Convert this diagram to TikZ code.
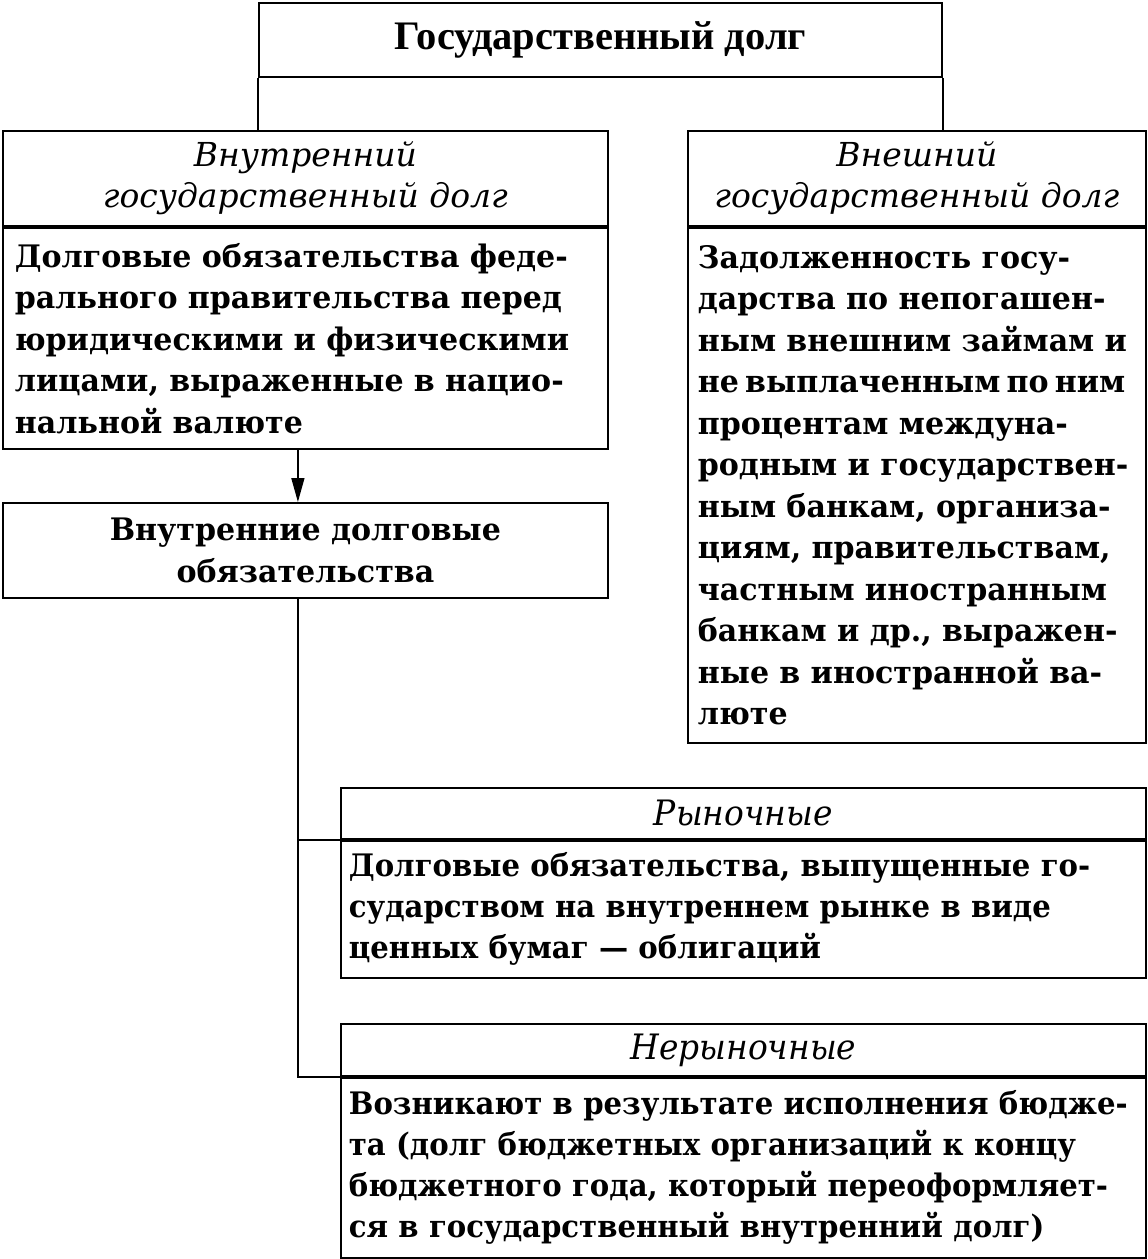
\documentclass[tikz,border=0pt]{standalone}
\usepackage{fontspec}
\setmainfont{DejaVu Serif}
\newfontfamily\titlefont{Liberation Serif}
\newfontfamily\bodyfont[FakeStretch=0.97]{DejaVu Serif}
\newfontfamily\narrowfont[FakeStretch=0.94]{DejaVu Serif}
\usetikzlibrary{arrows.meta,positioning}

\tikzset{
  boxline/.style={draw=black, line width=1.8pt},
  titlebox/.style={boxline, inner sep=0pt, font=\titlefont\fontsize{40.5}{42}\selectfont\bfseries},
  headbox/.style={boxline, inner sep=0pt, align=center, font=\fontsize{33}{41.5}\selectfont\itshape},
  bodybox/.style={boxline, inner xsep=10pt, inner ysep=0pt, align=left, font=\bodyfont\fontsize{31}{41.5}\selectfont\bfseries},
  lowhead/.style={headbox, font=\narrowfont\fontsize{35}{41.5}\selectfont\itshape},
  lowbody/.style={bodybox, inner xsep=8pt, font=\narrowfont\fontsize{31}{41}\selectfont\bfseries},
}

\begin{document}
\begin{tikzpicture}[x=1pt,y=1pt]
  \useasboundingbox (0,0) rectangle (1148,-1259);

  % top
  \node[titlebox, minimum width=683pt, minimum height=74pt, anchor=north west] (title) at (258,-2) {Государственный долг};

  % internal debt
  \node[headbox, minimum width=605pt, minimum height=95pt, anchor=north west] (inhead) at (2,-130)
    {Внутренний\\государственный долг};
  \node[bodybox, inner xsep=12pt, text width=581pt, minimum height=221pt, below=0pt of inhead] (inbody)
    {Долговые обязательства феде-\\
     рального правительства перед\\
     юридическими и физическими\\
     лицами, выраженные в нацио-\\
     нальной валюте};

  % external debt
  \node[headbox, minimum width=458pt, minimum height=95pt, anchor=north west] (exhead) at (687,-130)
    {Внешний\\государственный долг};
  \node[bodybox, text width=438pt, minimum height=515pt, below=0pt of exhead] (exbody)
    {Задолженность госу-\\
     дарства по непогашен-\\
     ным внешним займам и\\
     \mbox{\spaceskip=0.2em\relax не выплаченным по ним}\\
     процентам междуна-\\
     родным и государствен-\\
     ным банкам, организа-\\
     циям, правительствам,\\
     частным иностранным\\
     банкам и др., выражен-\\
     ные в иностранной ва-\\
     люте};

  \node[bodybox, align=center, text width=585pt, minimum height=95pt, anchor=north west] (inner) at (2,-502)
    {Внутренние долговые\\обязательства};

  % market / non-market
  \node[lowhead, minimum width=805pt, minimum height=51pt, anchor=north west] (mkhead) at (340,-787) {Рыночные};
  \node[lowbody, text width=789pt, minimum height=137pt, below=0pt of mkhead] (mkbody)
    {Долговые обязательства, выпущенные го-\\
     сударством на внутреннем рынке в виде\\
     ценных бумаг — облигаций};

  \node[lowhead, minimum width=805pt, minimum height=52pt, anchor=north west] (nmhead) at (340,-1023) {Нерыночные};
  \node[lowbody, text width=789pt, minimum height=180pt, below=0pt of nmhead] (nmbody)
    {Возникают в результате исполнения бюдже-\\
     та (долг бюджетных организаций к концу\\
     бюджетного года, который переоформляет-\\
     ся в государственный внутренний долг)};

  % connectors
  \draw[boxline] (title.south west) -- (title.south west |- inhead.north);
  \draw[boxline] (title.south east) -- (title.south east |- exhead.north);

  \coordinate (spine) at ([xshift=-7.5pt]inbody.south);
  \draw[line width=1.5pt, -{Triangle[width=13pt,length=24pt]}] (spine) -- (spine |- inner.north);
  \draw[boxline] (spine |- inner.south) |- (nmhead.south west);
  \draw[boxline] (spine |- mkhead.south west) -- (mkhead.south west);
\end{tikzpicture}
\end{document}
